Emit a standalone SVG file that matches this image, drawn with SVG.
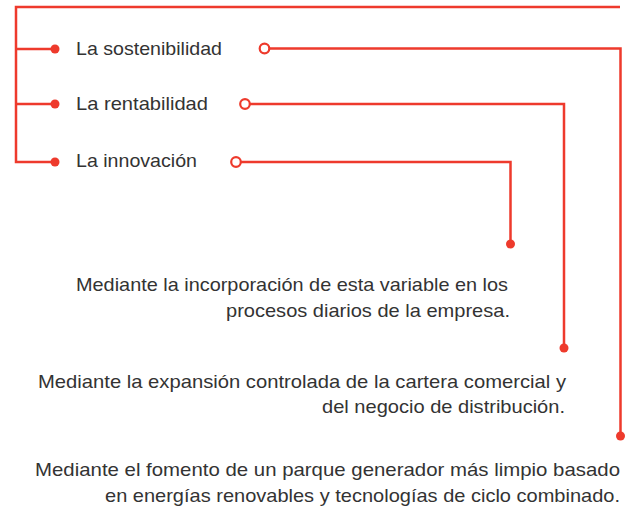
<svg xmlns="http://www.w3.org/2000/svg" width="628" height="511" viewBox="0 0 628 511">
<style>
.ln{fill:none;stroke:#ee3a2c;stroke-width:2.5;stroke-linejoin:miter}
.dot{fill:#ee3a2c}
.ring{fill:#fff;stroke:#ee3a2c;stroke-width:2.2}
.lbl{font-family:"Liberation Sans",Arial,sans-serif;font-size:19px;fill:#333}
.txt{font-family:"Liberation Sans",Arial,sans-serif;font-size:19px;fill:#333;text-anchor:end}
</style>
<rect width="628" height="511" fill="#fff"/>
<g id="connectors">
<path class="ln" d="M620,7 H16 V162 H55 M16,49 H55 M16,104 H55"/>
<path class="ln" d="M264,48.5 H620.5 V436"/>
<path class="ln" d="M245,104 H564 V348"/>
<path class="ln" d="M236,162 H510.5 V244"/>
<circle class="dot" cx="55" cy="49" r="4.5"/>
<circle class="dot" cx="55" cy="104" r="4.5"/>
<circle class="dot" cx="55" cy="162" r="4.5"/>
<circle class="dot" cx="620.5" cy="436" r="4.5"/>
<circle class="dot" cx="564" cy="348" r="4.5"/>
<circle class="dot" cx="510.5" cy="244" r="4.5"/>
<circle class="ring" cx="264.5" cy="48.5" r="4.8"/>
<circle class="ring" cx="245" cy="104" r="4.8"/>
<circle class="ring" cx="236" cy="162" r="4.8"/>
</g>
<g id="sostenibilidad"><text class="lbl" x="76" y="55" textLength="146" lengthAdjust="spacingAndGlyphs">La sostenibilidad</text></g>
<g id="rentabilidad"><text class="lbl" x="76" y="110" textLength="132" lengthAdjust="spacingAndGlyphs">La rentabilidad</text></g>
<g id="innovacion"><text class="lbl" x="76" y="167" textLength="121" lengthAdjust="spacingAndGlyphs">La innovación</text></g>
<g id="texto-innovacion">
<text class="txt" x="508" y="291" textLength="432" lengthAdjust="spacingAndGlyphs">Mediante la incorporación de esta variable en los</text>
<text class="txt" x="510" y="316.5" textLength="284" lengthAdjust="spacingAndGlyphs">procesos diarios de la empresa.</text>
</g>
<g id="texto-rentabilidad">
<text class="txt" x="566" y="387.5" textLength="528" lengthAdjust="spacingAndGlyphs">Mediante la expansión controlada de la cartera comercial y</text>
<text class="txt" x="565" y="413" textLength="243" lengthAdjust="spacingAndGlyphs">del negocio de distribución.</text>
</g>
<g id="texto-sostenibilidad">
<text class="txt" x="620" y="476" textLength="585" lengthAdjust="spacingAndGlyphs">Mediante el fomento de un parque generador más limpio basado</text>
<text class="txt" x="620" y="501.5" textLength="515" lengthAdjust="spacingAndGlyphs">en energías renovables y tecnologías de ciclo combinado.</text>
</g>
</svg>
